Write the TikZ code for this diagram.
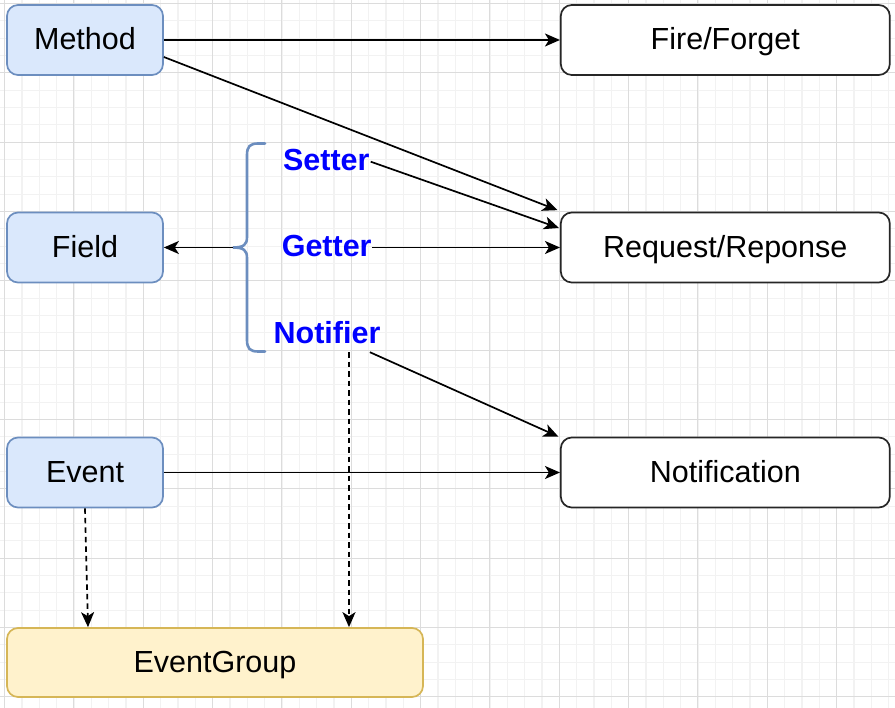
\documentclass[tikz,border=0pt]{standalone}
\usepackage{fontspec}
\setmainfont{Liberation Sans}
\usetikzlibrary{arrows.meta}
\definecolor{bluefill}{HTML}{DAE8FC}
\definecolor{bluedraw}{HTML}{6C8EBF}
\definecolor{yelfill}{HTML}{FFF2CC}
\definecolor{yeldraw}{HTML}{D6B656}
\definecolor{gridminor}{HTML}{F2F2F2}
\definecolor{gridmajor}{HTML}{DCDCDC}
\definecolor{lblblue}{HTML}{0000FF}
\begin{document}
\begin{tikzpicture}[x=1pt,y=-1pt,
  box/.style={draw, rounded corners=11pt, line width=1.7pt, minimum height=70pt, inner sep=0pt,
    font=\fontsize{30.5}{36}\selectfont, text height=26pt, text depth=6pt},
  bluebox/.style={box, fill=bluefill, draw=bluedraw, minimum width=156pt},
  whitebox/.style={box, fill=white, draw=black!85, minimum width=329pt},
  yellowbox/.style={box, fill=yelfill, draw=yeldraw, minimum width=416pt, minimum height=69pt},
  lbl/.style={text=lblblue, font=\bfseries\fontsize{30.5}{36}\selectfont, inner sep=0pt, anchor=base},
  arr/.style={-{Stealth[length=15pt,width=13pt,inset=4pt]}, line width=1.7pt},
  darr/.style={arr, dash pattern=on 5.5pt off 4pt},
  bracestyle/.style={draw=bluedraw, line width=2.6pt, line cap=round}]
\useasboundingbox (0,0) rectangle (895,708);
\fill[white] (0,0) rectangle (895,708);
% grid
\foreach \i in {0,...,51}{\pgfmathsetmacro\xx{4.6+\i*17.3333}
  \draw[gridminor, line width=1.2pt] (\xx,0) -- (\xx,708);}
\foreach \j in {0,...,40}{\pgfmathsetmacro\yy{3.5+\j*17.3333}
  \draw[gridminor, line width=1.2pt] (0,\yy) -- (895,\yy);}
\foreach \i in {0,...,12}{\pgfmathsetmacro\xx{4.6+\i*69.3333}
  \draw[gridmajor, line width=1pt] (\xx,0) -- (\xx,708);}
\foreach \j in {0,...,10}{\pgfmathsetmacro\yy{3.5+\j*69.3333}
  \draw[gridmajor, line width=1pt] (0,\yy) -- (895,\yy);}
% nodes
\node[bluebox] (method) at (85,40) {Method};
\node[bluebox] (field) at (85,247.5) {Field};
\node[bluebox] (event) at (85,472.5) {Event};
\node[yellowbox] (eventgroup) at (215,662.5) {EventGroup};
\node[whitebox] (fire) at (725.3,40) {Fire/Forget};
\node[whitebox] (request) at (725.3,247.5) {Request/Reponse};
\node[whitebox] (notification) at (725.3,472.5) {Notification};
\node[lbl] (setter) at (326.3,170.7) {Setter};
\node[lbl] (getter) at (326.7,256.7) {Getter};
\node[lbl] (notifier) at (327,343.3) {Notifier};
% brace
\coordinate (bracetip) at (233,247.5);
\draw[bracestyle] (265,143.5) -- (258,143.5) .. controls (250,143.5) and (247,146.5) .. (247,155)
  -- (247,237) .. controls (247,244.5) and (244,247.5) .. (bracetip)
  .. controls (244,247.5) and (247,250.5) .. (247,258)
  -- (247,340) .. controls (247,348.5) and (250,351.5) .. (258,351.5) -- (265,351.5);
% connectors
\draw[arr] (method.east) -- (fire.west);
\draw[arr] ([yshift=-17pt]method.east) -- ([xshift=-2.5pt,yshift=1.5pt]request.north west);
\draw[arr] ([xshift=1pt,yshift=-1.5pt]setter.east) -- ([xshift=-1pt,yshift=19.5pt]request.west);
\draw[arr] (getter.east |- request.west) -- (request.west);
\draw[arr] (bracetip) -- (field.east);
\draw[arr] ([xshift=-10.7pt,yshift=-8.4pt]notifier.south east) -- ([xshift=-1.5pt]notification.north west);
\draw[arr] (event.east) -- (notification.west);
\coordinate (nd) at ([xshift=22pt,yshift=-8.4pt]notifier.south);
\draw[darr] (nd) -- (nd |- eventgroup.north);
\draw[darr] (event.south) -- ([xshift=-127pt]eventgroup.north);
\end{tikzpicture}
\end{document}
